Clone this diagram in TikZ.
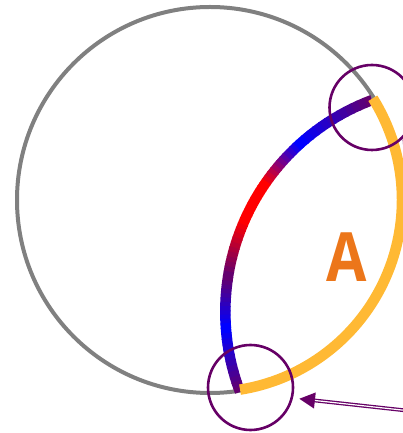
\documentclass[tikz,border=0pt]{standalone}
\usepackage{fontspec}
\usepackage{xcolor}
\usepackage{tikz}
\usetikzlibrary{arrows.meta,positioning,calc}
\newfontfamily\lunefont{Open Sans}
\definecolor{ringPurple}{RGB}{102,0,102}
\definecolor{rimGray}{RGB}{128,128,128}
\definecolor{arcYellow}{RGB}{255,185,52}
\definecolor{gPurple}{RGB}{100,0,110}
\definecolor{gBlue}{RGB}{0,0,255}
\definecolor{gRed}{RGB}{255,0,0}
\definecolor{lblOrange}{RGB}{236,118,26}

\begin{document}
\begin{tikzpicture}[x=1pt,y=1pt,
ring/.style={circle,draw=ringPurple,line width=2.6pt,minimum size=85pt,inner sep=0pt},
grad/.style={line width=10.5pt,line cap=butt},
arr/.style={-{Triangle[length=16pt,width=15pt]},draw=ringPurple,line width=3.8pt},
lbl/.style={font=\lunefont\bfseries\fontsize{68}{68}\selectfont,text=lblOrange,inner sep=0pt,xscale=0.86}
]
\useasboundingbox (0,0) rectangle (403,433);
\clip (0,0) rectangle (403,433);
\coordinate (oc) at (210,233);
\coordinate (lc) at (451.3,121.3);
\draw[rimGray,line width=4pt] (oc) circle[radius=193pt];
\foreach \a/\b/\ca/\cb in {110.5/132/gPurple/gBlue,132/146/gBlue/gRed,146/156/gRed/gRed,156/171/gRed/gPurple,171/184/gPurple/gBlue,184/200.8/gBlue/gPurple}{
\foreach \k in {0,...,11}{
\pgfmathsetmacro\sa{\a+(\b-\a)*\k/12}
\pgfmathsetmacro\ea{min(\a+(\b-\a)*(\k+1.2)/12,200.8)}
\pgfmathtruncatemacro\pc{100*\k/11}
\draw[grad,\cb!\pc!\ca] (lc) ++(\sa:226) arc[start angle=\sa,end angle=\ea,radius=226pt];
}}
\draw[arcYellow,line width=10.5pt] (oc) ++(32:192) arc[start angle=32,end angle=-81,radius=192pt];
\node[lbl] (a) at (347,175.5) {A};
\node[ring] (topc) at (372,325.5) {};
\node[ring] (botc) at (250.5,45.5) {};
\coordinate (tailb) at (440,18.8);
\coordinate (tailt) at (443.9,227.1);
\draw[arr,shorten >=6pt] (tailb) -- (botc.-14);
\draw[white,line width=1.2pt,shorten >=22pt] (tailb) -- (botc.-14);
\draw[arr] (tailt) -- (topc.-46);
\end{tikzpicture}
\end{document}
